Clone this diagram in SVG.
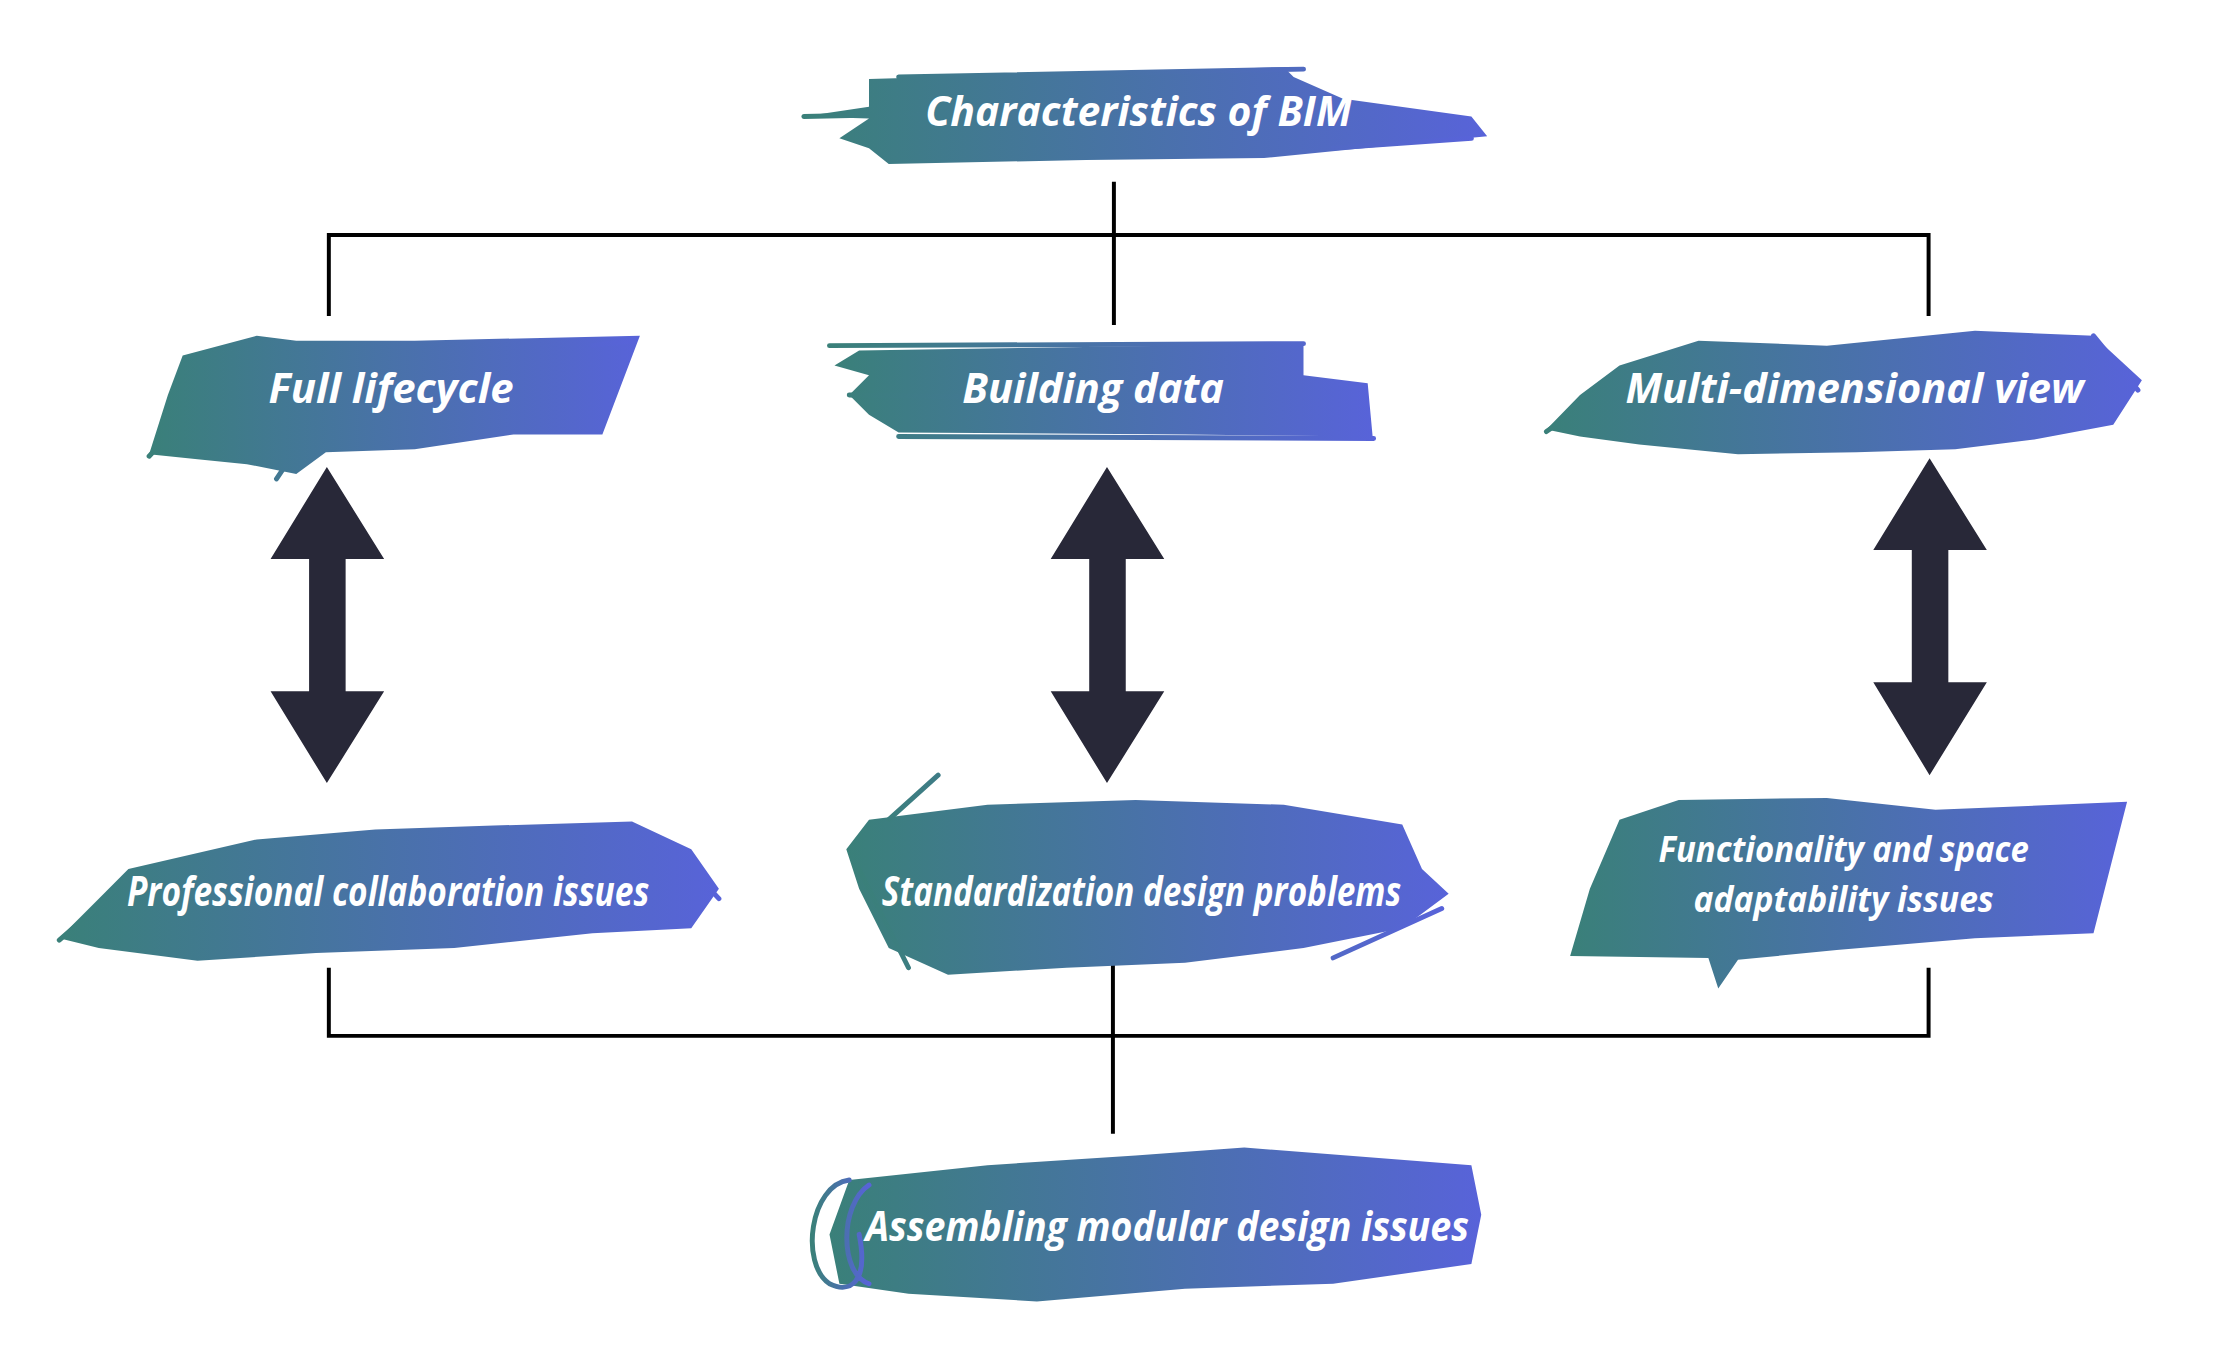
<svg xmlns="http://www.w3.org/2000/svg" width="2229" height="1353" viewBox="0 0 2229 1353">
<defs>
<linearGradient id="g" x1="0" y1="0" x2="1" y2="0"><stop offset="0" stop-color="#3a8079"/><stop offset="1" stop-color="#5863d9"/></linearGradient>
<style>
.b{fill:url(#g)}
.s{fill:none;stroke:url(#g);stroke-width:5;stroke-linecap:round}
.t{font-family:"Open Sans","Liberation Sans",sans-serif;font-weight:bold;font-style:italic;fill:#fff;font-size:42px;text-anchor:middle}
.t2{font-size:36px}
.c{fill:none;stroke:#000;stroke-width:4}
.a{fill:#282838}
</style>
</defs>
<rect width="2229" height="1353" fill="#fff"/>
<g transform="scale(0.9875)">
<g id="connectors">
<path class="c" d="M1128 184V329M333 320V238H1953V320"/>
<path class="c" d="M333 980V1049H1953V980M1127 975V1148"/>
<path class="a" d="M331 473L389 566H350V700H389L331 793L274 700H313V566H274Z"/>
<path class="a" d="M1121 473L1179 566H1140V700H1179L1121 793L1064 700H1103V566H1064Z"/>
<path class="a" d="M1954 464L2012 557H1973V691H2012L1954 785L1897 691H1936V557H1897Z"/>
</g>
<g id="n-top">
<path class="b" d="M880 80L1300 68L1310 78L1360 100L1490 118L1506 138L1380 150L1280 160L1100 162L900 166L880 150L850 140L880 120L814 118L880 108Z"/>
<path class="s" d="M814 118L1000 114M1320 70L910 78M1350 150L1490 140"/>
<text class="t" x="1153" y="128" textLength="432" lengthAdjust="spacingAndGlyphs">Characteristics of BIM</text>
</g>
<g id="n-full">
<path class="b" d="M185 360L260 340L300 345L420 345L648 340L610 440L520 440L420 455L330 458L300 480L250 470L200 465L151 460L170 400Z"/>
<path class="s" d="M151 462L190 420M600 350L640 345M290 470L280 485"/>
<text class="t" x="396" y="408" textLength="248" lengthAdjust="spacingAndGlyphs">Full lifecycle</text>
</g>
<g id="n-build">
<path class="b" d="M870 355L1320 348L1320 380L1385 388L1390 442L1200 440L910 438L880 420L860 400L880 380L845 370Z"/>
<path class="s" d="M840 350L1320 348M860 400L1000 402M910 442L1391 444"/>
<text class="t" x="1107" y="408" textLength="265" lengthAdjust="spacingAndGlyphs">Building data</text>
</g>
<g id="n-multi">
<path class="b" d="M1640 370L1720 345L1850 350L2000 335L2120 340L2169 385L2140 430L2060 445L1980 455L1880 458L1760 460L1660 450L1600 442L1566 435L1600 400Z"/>
<path class="s" d="M2120 340L2165 395M1566 437L1620 400"/>
<text class="t" x="1878" y="408" textLength="464" lengthAdjust="spacingAndGlyphs">Multi-dimensional view</text>
</g>
<g id="n-prof">
<path class="b" d="M130 880L260 850L380 840L500 836L640 832L700 860L728 900L700 940L600 945L460 960L320 965L200 973L100 960L60 950L100 910Z"/>
<path class="s" d="M60 952L120 900M700 880L728 910"/>
<text class="t" x="393" y="917" textLength="529" lengthAdjust="spacingAndGlyphs">Professional collaboration issues</text>
</g>
<g id="n-std">
<path class="b" d="M880 830L1000 815L1150 810L1300 815L1420 835L1440 880L1467 905L1420 940L1320 960L1200 975L1080 980L960 987L900 960L870 900L857 860Z"/>
<path class="s" d="M900 830L950 785M870 880L920 980M1350 970L1460 920"/>
<text class="t" x="1156" y="917" textLength="526" lengthAdjust="spacingAndGlyphs">Standardization design problems</text>
</g>
<g id="n-func">
<path class="b" d="M1640 830L1700 810L1850 808L1960 820L2154 812L2120 945L2000 950L1860 962L1760 972L1740 1001L1730 970L1590 968L1610 900Z"/>
<text class="t t2" x="1867" y="873" textLength="375" lengthAdjust="spacingAndGlyphs">Functionality and space</text>
<text class="t t2" x="1867" y="924" textLength="304" lengthAdjust="spacingAndGlyphs">adaptability issues</text>
</g>
<g id="n-asm">
<path class="b" d="M860 1195L1000 1180L1150 1170L1260 1162L1490 1180L1500 1230L1490 1280L1350 1300L1200 1305L1050 1318L920 1310L850 1300L840 1250Z"/>
<path class="s" d="M860 1195C820 1200 810 1280 840 1300C860 1310 880 1300 870 1250M880 1200C850 1220 850 1290 880 1300"/>
<text class="t" x="1182" y="1257" textLength="611" lengthAdjust="spacingAndGlyphs">Assembling modular design issues</text>
</g>
</g>
</svg>
